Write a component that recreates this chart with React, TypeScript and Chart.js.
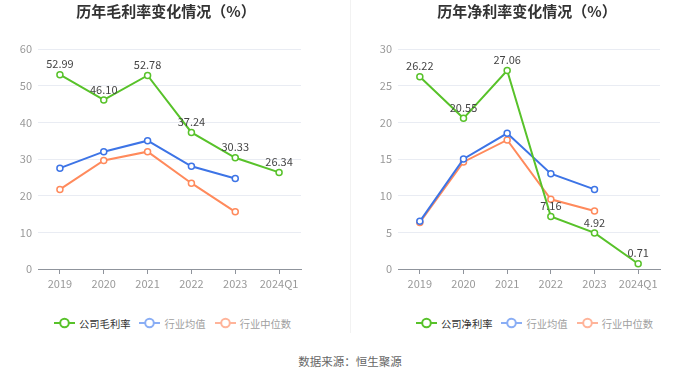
import React, { useEffect, useRef } from "react";
import { Chart, registerables } from "chart.js";

Chart.register(...registerables);

const categories = ["2019", "2020", "2021", "2022", "2023", "2024Q1"];

const grossCompany = [52.99, 46.1, 52.78, 37.24, 30.33, 26.34];
const grossIndustryAvg = [27.5, 32.0, 35.0, 28.0, 24.7, null];
const grossIndustryMedian = [21.7, 29.6, 32.0, 23.4, 15.6, null];

const netCompany = [26.22, 20.55, 27.06, 7.16, 4.92, 0.71];
const netIndustryAvg = [6.5, 15.0, 18.5, 13.0, 10.85, null];
const netIndustryMedian = [6.35, 14.6, 17.6, 9.5, 7.9, null];

const grossTicks = { min: 0, max: 60, step: 10 };
const netTicks = { min: 0, max: 30, step: 5 };

const GREEN = "#58c22a";
const BLUE = "#3d74e6";
const ORANGE = "#ff8a5c";
const FONT = "'Noto Sans CJK SC', 'Noto Sans', sans-serif";

const labelPlugin = {
  id: "valueLabels",
  afterDatasetsDraw(chart: any) {
    const ctx = chart.ctx;
    const meta = chart.getDatasetMeta(0);
    const ds = chart.data.datasets[0];
    ctx.save();
    ctx.font = `11px ${FONT}`;
    ctx.fillStyle = "#444";
    ctx.textAlign = "center";
    ctx.textBaseline = "bottom";
    meta.data.forEach((pt: any, i: number) => {
      const v = ds.data[i];
      if (v == null) return;
      ctx.fillText(Number(v).toFixed(2), pt.x, pt.y - 5);
    });
    ctx.restore();
  },
};

function LineChart(props: {
  company: (number | null)[];
  avg: (number | null)[];
  median: (number | null)[];
  ticks: { min: number; max: number; step: number };
  yWidth: number;
  padRight: number;
}) {
  const ref = useRef<HTMLCanvasElement>(null);
  useEffect(() => {
    const mk = (data: any, color: string, order: number) => ({
      data,
      borderColor: color,
      backgroundColor: "#fff",
      borderWidth: 2,
      pointRadius: 3,
      pointBorderWidth: 1.5,
      pointBackgroundColor: "#fff",
      pointBorderColor: color,
      tension: 0,
      order,
      spanGaps: false,
    });
    const chart = new Chart(ref.current!, {
      type: "line",
      data: {
        labels: categories,
        datasets: [
          mk(props.company, GREEN, 0),
          mk(props.avg, BLUE, 1),
          mk(props.median, ORANGE, 2),
        ],
      },
      options: {
        animation: false,
        responsive: false,
        maintainAspectRatio: false,
        layout: { padding: { left: 0, right: props.padRight, top: 49, bottom: 0 } },
        plugins: { legend: { display: false }, tooltip: { enabled: false }, title: { display: false } },
        scales: {
          x: {
            offset: true,
            grid: {
              drawOnChartArea: false,
              drawTicks: true,
              tickLength: 5,
              color: "#8f949c",
              offset: false,
            },
            border: { color: "#8f949c", width: 1 },
            ticks: { color: "#999", font: { size: 11, family: FONT }, padding: 3, maxRotation: 0, autoSkip: false },
            afterFit: (s: any) => {
              s.height = 31;
            },
          },
          y: {
            min: props.ticks.min,
            max: props.ticks.max,
            grid: { color: "#e9ecf3", drawTicks: false, lineWidth: 1 },
            border: { display: false },
            ticks: { stepSize: props.ticks.step, color: "#999", font: { size: 11, family: FONT }, padding: 6 },
            afterFit: (s: any) => {
              s.width = props.yWidth;
            },
          },
        },
      },
      plugins: [labelPlugin],
    });
    return () => chart.destroy();
  }, []);
  return <canvas ref={ref} width={350} height={300} style={{ display: "block", width: 350, height: 300 }} />;
}

function LegendIcon({ color }: { color: string }) {
  return (
    <svg width={21} height={12} style={{ display: "inline-block", verticalAlign: "middle", marginRight: 4 }}>
      <line x1={0} y1={6} x2={21} y2={6} stroke={color} strokeWidth={2} />
      <circle cx={10.5} cy={6} r={4.3} fill="#fff" stroke={color} strokeWidth={2} />
    </svg>
  );
}

function Legend(props: { left: number; first: string }) {
  const items = [
    { label: props.first, icon: GREEN, text: "#333" },
    { label: "行业均值", icon: "#8aaef5", text: "#a0a0a0" },
    { label: "行业中位数", icon: "#ffb49a", text: "#a0a0a0" },
  ];
  return (
    <div
      style={{
        position: "absolute",
        left: props.left,
        top: 314,
        height: 18,
        display: "flex",
        alignItems: "center",
        fontFamily: FONT,
        fontSize: 10.3,
        whiteSpace: "nowrap",
      }}
    >
      {items.map((it, i) => (
        <span key={i} style={{ display: "inline-flex", alignItems: "center", marginRight: 9, color: it.text }}>
          <LegendIcon color={it.icon} />
          {it.label}
        </span>
      ))}
    </div>
  );
}

export default function App() {
  const titleStyle = (center: number): React.CSSProperties => ({
    position: "absolute",
    left: center - 120,
    width: 240,
    top: 0,
    textAlign: "center",
    fontFamily: FONT,
    fontWeight: "bold",
    fontSize: 15,
    color: "#333",
    lineHeight: "22px",
  });
  return (
    <div style={{ position: "fixed", left: 0, top: 0, width: 700, height: 378, background: "#fff", overflow: "hidden" }}>
      <div style={{ position: "absolute", left: 0, top: 0 }}>
        <LineChart company={grossCompany} avg={grossIndustryAvg} median={grossIndustryMedian} ticks={grossTicks} yWidth={38} padRight={49} />
      </div>
      <div style={{ position: "absolute", left: 350, top: 0 }}>
        <LineChart company={netCompany} avg={netIndustryAvg} median={netIndustryMedian} ticks={netTicks} yWidth={48} padRight={40} />
      </div>
      <div style={{ position: "absolute", left: 350, top: 0, width: 1, height: 333, background: "#f2f2f2" }} />
      <div style={titleStyle(166)}>历年毛利率变化情况（%）</div>
      <div style={titleStyle(527)}>历年净利率变化情况（%）</div>
      <Legend left={54} first="公司毛利率" />
      <Legend left={416} first="公司净利率" />
      <div
        style={{
          position: "absolute",
          left: 0,
          width: 700,
          top: 352,
          textAlign: "center",
          fontFamily: FONT,
          fontSize: 11.5,
          color: "#666",
          lineHeight: "18px",
        }}
      >
        数据来源：恒生聚源
      </div>
    </div>
  );
}
